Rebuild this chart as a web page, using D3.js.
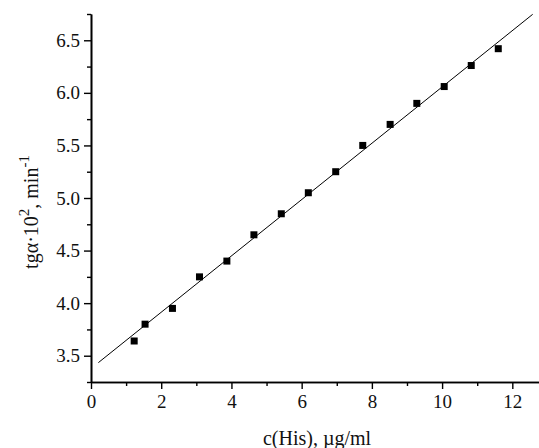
<!DOCTYPE html>
<html>
<head>
<meta charset="utf-8">
<script src="https://cdn.jsdelivr.net/npm/d3@7"></script>
<style>
  html, body { margin: 0; padding: 0; background: #fff; }
  svg { display: block; font-family: "Liberation Serif", "DejaVu Serif", serif; }
</style>
</head>
<body>
<svg id="chart" width="539" height="448"></svg>
<script>
// Histidine concentration, µg/ml
const concentration = [1.23, 1.54, 2.32, 3.09, 3.87, 4.64, 5.42, 6.19, 6.97, 7.74, 8.52, 9.28, 10.06, 10.83, 11.6];
// Reaction rate tgα·10², min⁻¹
const rate = [3.64, 3.80, 3.95, 4.25, 4.40, 4.65, 4.85, 5.05, 5.25, 5.50, 5.70, 5.90, 6.06, 6.26, 6.42];
// Calibration line: rate = intercept + slope * c
const fitIntercept = 3.378;
const fitSlope = 0.2678;
const fitRange = [0.21, 12.58];

const xTicks = [0, 2, 4, 6, 8, 10, 12];
const xMinorTicks = [1, 3, 5, 7, 9, 11];
const yTicks = [3.5, 4.0, 4.5, 5.0, 5.5, 6.0, 6.5];
const yMinorTicks = [3.25, 3.75, 4.25, 4.75, 5.25, 5.75, 6.25, 6.75];

const svg = d3.select("#chart");
const plot = { left: 91, right: 539, top: 14, bottom: 382 };

const x = d3.scaleLinear().domain([0, 12.76]).range([plot.left, plot.right]);
const y = d3.scaleLinear().domain([3.25, 6.75]).range([plot.bottom, plot.top]);

// Axes
const xAxis = d3.axisBottom(x).tickValues(xTicks).tickFormat(d3.format("d")).tickSizeInner(7).tickSizeOuter(0).tickPadding(6);
const xMinor = d3.axisBottom(x).tickValues(xMinorTicks).tickFormat("").tickSizeInner(4).tickSizeOuter(0);
const yAxis = d3.axisLeft(y).tickValues(yTicks).tickFormat(d3.format(".1f")).tickSizeInner(7).tickSizeOuter(0).tickPadding(4);
const yMinor = d3.axisLeft(y).tickValues(yMinorTicks).tickFormat("").tickSizeInner(4).tickSizeOuter(0);

function style(g) {
  g.selectAll(".domain").attr("stroke", "#000").attr("stroke-width", 1.6);
  g.selectAll(".tick line").attr("stroke", "#000").attr("stroke-width", 1.4);
  g.selectAll(".tick text").attr("fill", "#111").attr("font-size", 19)
    .attr("font-family", "Liberation Serif, serif");
}

svg.append("g").attr("transform", `translate(0,${plot.bottom})`).call(xMinor).call(style);
svg.append("g").attr("transform", `translate(0,${plot.bottom})`).call(xAxis).call(style);
svg.append("g").attr("transform", `translate(${plot.left},0)`).call(yMinor).call(style);
svg.append("g").attr("transform", `translate(${plot.left},0)`).call(yAxis).call(style);

// Fitted line
const line = d3.line().x(d => x(d)).y(d => y(fitIntercept + fitSlope * d));
svg.append("path")
  .attr("d", line(fitRange))
  .attr("fill", "none")
  .attr("stroke", "#000")
  .attr("stroke-width", 1);

// Measured points
const size = 7;
svg.append("g").selectAll("rect")
  .data(concentration.map((c, i) => [c, rate[i]]))
  .join("rect")
  .attr("x", d => x(d[0]) - size / 2)
  .attr("y", d => y(d[1]) - size / 2)
  .attr("width", size)
  .attr("height", size)
  .attr("fill", "#000");

// Axis titles
svg.append("text")
  .attr("x", 317)
  .attr("y", 445)
  .attr("text-anchor", "middle")
  .attr("font-size", 20)
  .attr("fill", "#111")
  .text("c(His), µg/ml");

const yt = svg.append("text")
  .attr("transform", "translate(38,212) rotate(-90)")
  .attr("text-anchor", "middle")
  .attr("font-size", 20)
  .attr("fill", "#111");
yt.append("tspan").text("tgα·10");
yt.append("tspan").attr("dy", -9).attr("font-size", 15).text("2");
yt.append("tspan").attr("dy", 9).text(", min");
yt.append("tspan").attr("dy", -9).attr("font-size", 15).text("-1");
</script>
</body>
</html>
